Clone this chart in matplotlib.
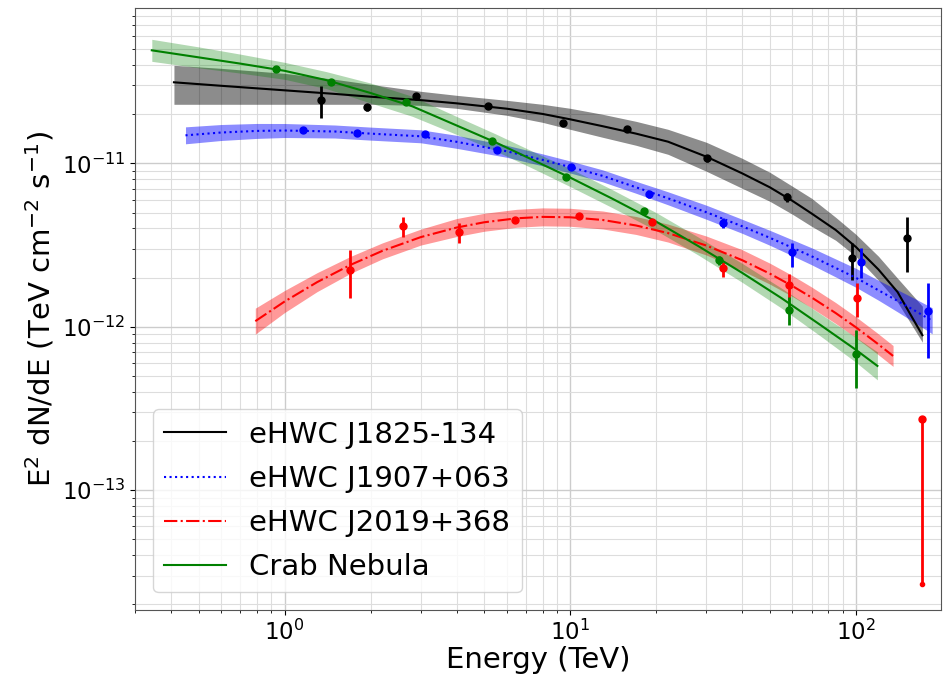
import numpy as np
import matplotlib
matplotlib.use("Agg")
import matplotlib.pyplot as plt

# -----------------------------
# SPECTRAL POINTS (E in TeV, E^2 dN/dE in TeV cm^-2 s^-1)
# -----------------------------

j1825_e = [1.34, 1.95, 2.89, 5.17, 9.45, 15.8, 30.1, 57.4, 96.8, 150.8]
j1825_f = [2.43e-11, 2.20e-11, 2.57e-11, 2.23e-11, 1.76e-11, 1.61e-11, 1.07e-11, 6.2e-12, 2.62e-12, 3.48e-12]
j1825_lo = [1.88e-11, 2.10e-11, 2.46e-11, 2.15e-11, 1.70e-11, 1.55e-11, 1.02e-11, 5.8e-12, 1.93e-12, 2.15e-12]
j1825_hi = [2.96e-11, 2.31e-11, 2.68e-11, 2.31e-11, 1.82e-11, 1.67e-11, 1.12e-11, 6.6e-12, 3.24e-12, 4.68e-12]

j1907_e = [1.165, 1.80, 3.11, 5.56, 10.08, 18.9, 34.3, 59.7, 104.1, 178.5]
j1907_f = [1.59e-11, 1.526e-11, 1.504e-11, 1.20e-11, 9.45e-12, 6.46e-12, 4.30e-12, 2.86e-12, 2.48e-12, 1.244e-12]
j1907_lo = [1.53e-11, 1.47e-11, 1.45e-11, 1.15e-11, 9.05e-12, 6.15e-12, 4.02e-12, 2.31e-12, 1.98e-12, 6.42e-13]
j1907_hi = [1.65e-11, 1.58e-11, 1.56e-11, 1.25e-11, 9.85e-12, 6.78e-12, 4.60e-12, 3.24e-12, 3.02e-12, 1.845e-12]

j2019_e = [1.70, 2.59, 4.09, 6.42, 10.75, 19.35, 34.3, 58.3, 100.8, 170.1]
j2019_f = [2.22e-12, 4.12e-12, 3.78e-12, 4.48e-12, 4.74e-12, 4.36e-12, 2.28e-12, 1.79e-12, 1.494e-12, 2.72e-13]
j2019_lo = [1.494e-12, 3.53e-12, 3.24e-12, 4.32e-12, 4.58e-12, 4.20e-12, 2.01e-12, 1.45e-12, 1.143e-12, 2.66e-14]
j2019_hi = [2.94e-12, 4.67e-12, 4.30e-12, 4.64e-12, 4.90e-12, 4.52e-12, 2.48e-12, 2.10e-12, 1.845e-12, 2.72e-13]

crab_e = [0.930, 1.46, 2.67, 5.34, 9.68, 18.14, 33.2, 58.3, 100.0]
crab_f = [3.76e-11, 3.13e-11, 2.36e-11, 1.363e-11, 8.21e-12, 5.09e-12, 2.55e-12, 1.26e-12, 6.79e-13]
crab_lo = [3.70e-11, 3.08e-11, 2.32e-11, 1.34e-11, 8.05e-12, 4.98e-12, 2.40e-12, 1.02e-12, 4.2e-13]
crab_hi = [3.82e-11, 3.18e-11, 2.40e-11, 1.386e-11, 8.37e-12, 5.20e-12, 2.70e-12, 1.515e-12, 9.52e-13]

# -----------------------------
# BEST-FIT SPECTRA AND 1-SIGMA BANDS
# -----------------------------

j1825_fit_e = [0.41, 0.6, 1, 1.5, 2, 3, 4, 6, 8, 10, 13, 17, 22, 30, 40, 50, 60, 70, 85, 100, 120, 140, 171]
j1825_fit = [3.13e-11, 2.98e-11, 2.796e-11, 2.658e-11, 2.555e-11, 2.435e-11, 2.328e-11, 2.158e-11,
             2.005e-11, 1.858e-11, 1.686e-11, 1.519e-11, 1.356e-11, 1.097e-11, 8.68e-12, 7.13e-12,
             5.89e-12, 4.93e-12, 3.91e-12, 3.08e-12, 2.24e-12, 1.63e-12, 8.87e-13]
j1825_band_hi = [3.977e-11, 3.811e-11, 3.551e-11, 3.265e-11, 3.042e-11, 2.757e-11, 2.606e-11, 2.428e-11,
                 2.296e-11, 2.17e-11, 1.994e-11, 1.806e-11, 1.614e-11, 1.344e-11, 1.073e-11, 8.81e-12,
                 7.234e-12, 6.11e-12, 4.673e-12, 3.679e-12, 2.699e-12, 1.98e-12, 1.335e-12]
j1825_band_lo = [2.296e-11, 2.296e-11, 2.296e-11, 2.296e-11, 2.296e-11, 2.263e-11, 2.17e-11, 1.966e-11,
                 1.781e-11, 1.614e-11, 1.442e-11, 1.289e-11, 1.135e-11, 8.935e-12, 7.034e-12, 5.855e-12,
                 4.876e-12, 4.118e-12, 3.381e-12, 2.699e-12, 1.925e-12, 1.413e-12, 8.04e-13]

j1907_fit_e = [0.45, 0.6, 0.8, 1, 1.5, 2, 3, 4, 6, 8, 10, 13, 17, 22, 30, 40, 50, 60, 70, 85, 100, 120, 140, 160, 185]
j1907_fit = [1.483e-11, 1.543e-11, 1.578e-11, 1.587e-11, 1.565e-11, 1.519e-11, 1.463e-11, 1.354e-11,
             1.184e-11, 1.05e-11, 9.492e-12, 8.375e-12, 7.133e-12, 6.108e-12, 5.016e-12, 4.118e-12,
             3.501e-12, 3.042e-12, 2.699e-12, 2.289e-12, 1.994e-12, 1.672e-12, 1.44e-12, 1.262e-12, 1.088e-12]
j1907_band_hi = [1.671e-11, 1.727e-11, 1.753e-11, 1.752e-11, 1.715e-11, 1.665e-11, 1.603e-11, 1.484e-11,
                 1.288e-11, 1.142e-11, 1.033e-11, 9.112e-12, 7.761e-12, 6.694e-12, 5.538e-12, 4.546e-12,
                 3.89e-12, 3.404e-12, 3.042e-12, 2.598e-12, 2.279e-12, 1.924e-12, 1.682e-12, 1.494e-12, 1.307e-12]
j1907_band_lo = [1.316e-11, 1.379e-11, 1.42e-11, 1.438e-11, 1.428e-11, 1.386e-11, 1.335e-11, 1.235e-11,
                 1.088e-11, 9.65e-12, 8.724e-12, 7.698e-12, 6.556e-12, 5.573e-12, 4.543e-12, 3.73e-12,
                 3.151e-12, 2.718e-12, 2.395e-12, 2.017e-12, 1.745e-12, 1.453e-12, 1.233e-12, 1.066e-12, 9.06e-13]

j2019_fit_e = [0.79, 1, 1.3, 1.7, 2.2, 3, 4, 5, 6.5, 8, 10, 13, 17, 22, 30, 40, 50, 60, 70, 85, 100, 118, 135]
j2019_fit = [1.082e-12, 1.426e-12, 1.874e-12, 2.389e-12, 2.912e-12, 3.536e-12, 4.044e-12, 4.357e-12,
             4.609e-12, 4.701e-12, 4.675e-12, 4.5e-12, 4.165e-12, 3.742e-12, 3.137e-12, 2.555e-12,
             2.113e-12, 1.774e-12, 1.511e-12, 1.213e-12, 9.93e-13, 7.98e-13, 6.63e-13]
j2019_band_hi = [1.299e-12, 1.666e-12, 2.142e-12, 2.692e-12, 3.259e-12, 3.957e-12, 4.59e-12, 4.945e-12,
                 5.231e-12, 5.336e-12, 5.306e-12, 5.108e-12, 4.727e-12, 4.247e-12, 3.586e-12, 2.961e-12,
                 2.449e-12, 2.056e-12, 1.751e-12, 1.406e-12, 1.151e-12, 9.25e-13, 7.68e-13]
j2019_band_lo = [9.01e-13, 1.221e-12, 1.64e-12, 2.12e-12, 2.602e-12, 3.16e-12, 3.563e-12, 3.839e-12,
                 4.061e-12, 4.142e-12, 4.119e-12, 3.965e-12, 3.67e-12, 3.297e-12, 2.745e-12, 2.204e-12,
                 1.823e-12, 1.531e-12, 1.304e-12, 1.047e-12, 8.57e-13, 6.89e-13, 5.72e-13]

crab_fit_e = [0.343, 0.5, 0.7, 1, 1.4, 2, 2.8, 4, 5.5, 7.5, 10, 14, 20, 28, 40, 55, 75, 100, 119]
crab_fit = [4.911e-11, 4.449e-11, 4.073e-11, 3.68e-11, 3.228e-11, 2.692e-11, 2.232e-11, 1.705e-11,
            1.339e-11, 1.037e-11, 8.177e-12, 6.091e-12, 4.398e-12, 3.125e-12, 2.137e-12, 1.494e-12,
            1.028e-12, 7.23e-13, 5.76e-13]
crab_band_hi = [5.736e-11, 5.156e-11, 4.655e-11, 4.147e-11, 3.638e-11, 3.098e-11, 2.569e-11, 1.935e-11,
                1.509e-11, 1.169e-11, 9.281e-12, 6.913e-12, 4.992e-12, 3.547e-12, 2.443e-12, 1.72e-12,
                1.201e-12, 8.62e-13, 7.02e-13]
crab_band_lo = [4.205e-11, 3.839e-11, 3.563e-11, 3.265e-11, 2.864e-11, 2.339e-11, 1.939e-11, 1.502e-11,
                1.188e-11, 9.201e-12, 7.204e-12, 5.367e-12, 3.875e-12, 2.753e-12, 1.87e-12, 1.298e-12,
                8.8e-13, 6.07e-13, 4.73e-13]

labels = ["eHWC J1825-134", "eHWC J1907+063", "eHWC J2019+368", "Crab Nebula"]
x_decades = [1, 10, 100]
y_decades = [1e-13, 1e-12, 1e-11]

# -----------------------------
# PLOT
# -----------------------------

fig = plt.figure(figsize=(9.52, 6.77), dpi=100)
ax = fig.add_axes([0.142, 0.099, 0.846, 0.889])

sources = [
    (j1825_fit_e, j1825_fit, j1825_band_lo, j1825_band_hi, j1825_e, j1825_f, j1825_lo, j1825_hi, "k", "-", 0.45),
    (j1907_fit_e, j1907_fit, j1907_band_lo, j1907_band_hi, j1907_e, j1907_f, j1907_lo, j1907_hi, "b", ":", 0.45),
    (j2019_fit_e, j2019_fit, j2019_band_lo, j2019_band_hi, j2019_e, j2019_f, j2019_lo, j2019_hi, "r", "-.", 0.4),
    (crab_fit_e, crab_fit, crab_band_lo, crab_band_hi, crab_e, crab_f, crab_lo, crab_hi, "g", "-", 0.3),
]

for (fe, ff, blo, bhi, e, f, lo, hi, c, ls, a), lab in zip(sources, labels):
    ax.fill_between(fe, blo, bhi, color=c, alpha=a, lw=0)
    ax.plot(fe, ff, color=c, ls=ls, lw=1.5, label=lab)
    f = np.array(f)
    yerr = [f - np.array(lo), np.array(hi) - f]
    ax.errorbar(e, f, yerr=yerr, fmt="o", color=c, ms=5, elinewidth=2, capsize=0)

# lower end of the last J2019 error bar
ax.plot(j2019_e[-1], j2019_lo[-1], "o", color="r", ms=3)

ax.set_xscale("log")
ax.set_yscale("log")
ax.set_xlim(0.3, 198)
ax.set_ylim(1.85e-14, 8.9e-11)
ax.set_xticks(x_decades)
ax.set_yticks(y_decades)

ax.grid(True, which="major", color="#cccccc", lw=1.0)
ax.grid(True, which="minor", color="#dddddd", lw=0.8)
ax.set_axisbelow(True)
for s in ax.spines.values():
    s.set_color("#555555")

ax.tick_params(labelsize=16.5)
ax.set_xlabel("Energy (TeV)", fontsize=21, labelpad=1)
ax.set_ylabel("E$^2$ dN/dE (TeV cm$^{-2}$ s$^{-1}$)", fontsize=21)

ax.legend(loc="lower left", fontsize=21, handlelength=2.1, labelspacing=0.55,
          borderaxespad=0.6)

fig.savefig("out.png", dpi=100)
